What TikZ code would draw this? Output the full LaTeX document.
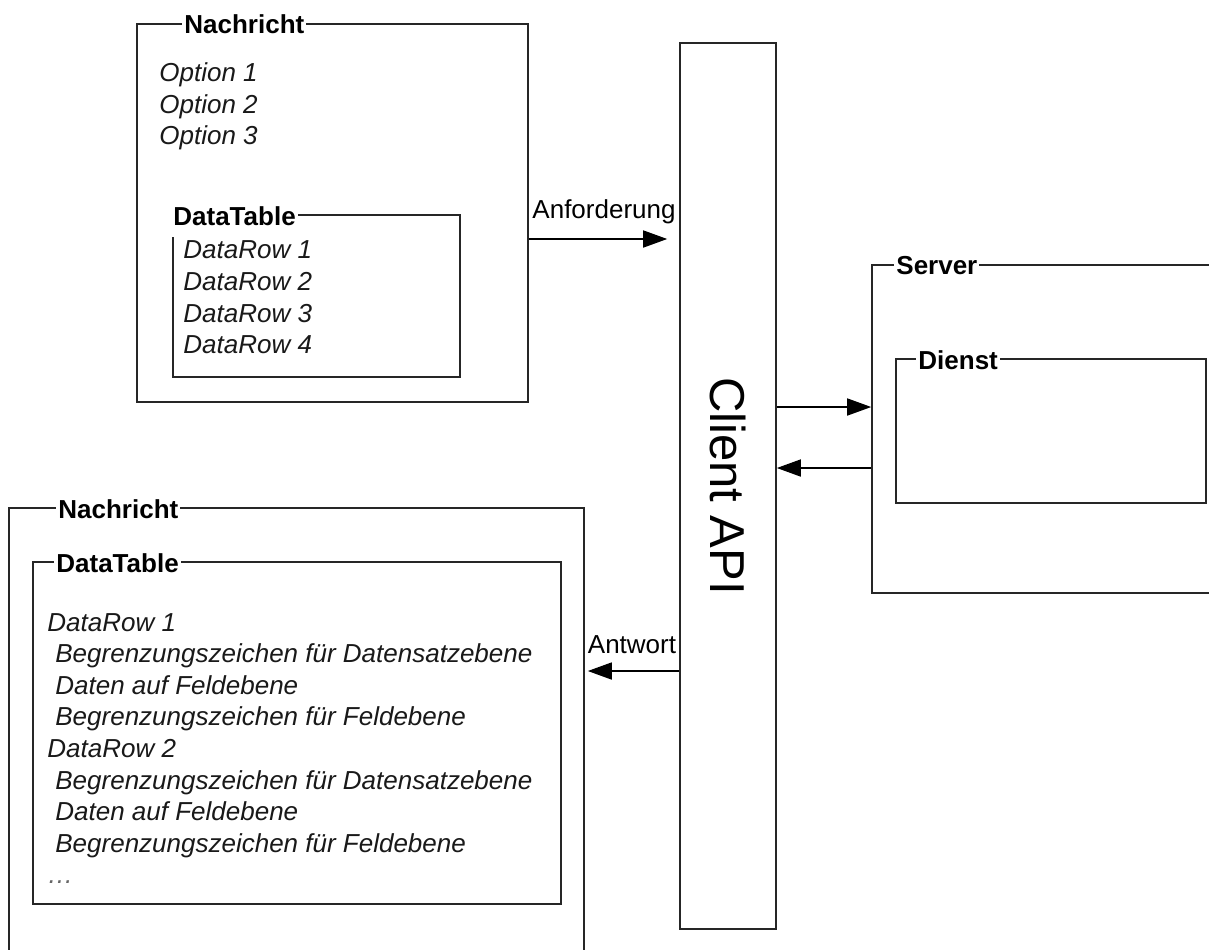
\documentclass[tikz,border=0pt]{standalone}
\usepackage{fontspec}
\setmainfont{Liberation Sans}
\usetikzlibrary{arrows.meta,fit}

\tikzset{
  frame/.style={draw=black!85,line width=0.8pt,inner sep=0pt},
  frametitle/.style={fill=white,inner xsep=1pt,inner ysep=1pt,anchor=west,
    font=\fontsize{13}{15.8}\selectfont\bfseries},
  rows/.style={inner sep=0pt,anchor=west,align=left,text=black!90,
    font=\fontsize{13}{15.8}\selectfont\itshape},
  msglabel/.style={font=\fontsize{13}{15.8}\selectfont,inner sep=0pt},
  arr/.style={line width=0.8pt,-{Triangle[length=12pt,width=8.5pt]}}
}

\begin{document}
\begin{tikzpicture}[x=0.5pt,y=-0.5pt]

  \clip (0,0) rectangle (1209,949);
  \fill[white] (0,0) rectangle (1209,949);

  % request message
  \node[frame,fit={(137,24) (528,402)}] (msgA) {};
  \node[frametitle] (msgAt) at (182,24) {Nachricht};
  \node[rows] (opts) at (159,106.5) {Option 1\\Option 2\\Option 3};

  \node[frame,fit={(173,215) (460,377)}] (tabA) {};
  \node[frametitle,minimum height=21pt] (tabAt) at (171,216) {DataTable};
  \node[rows] (rowsA) at (183,297.5) {DataRow 1\\DataRow 2\\DataRow 3\\DataRow 4};

  % client
  \node[frame,fit={(680,43) (776,929)}] (client) {};
  \node[rotate=-90,font=\fontsize{24.5}{29}\selectfont] (clientt) at (client.center) {Client API};

  % server
  \node[frame,fit={(872,265) (1220,593)}] (server) {};
  \node[frametitle] (servert) at (894,266) {Server};
  \node[frame,fit={(896,359) (1206,503)}] (dienst) {};
  \node[frametitle] (dienstt) at (916,360) {Dienst};

  % response message
  \node[frame,fit={(9,508) (584,960)}] (msgB) {};
  \node[frametitle] (msgBt) at (56,509) {Nachricht};
  \node[frame,fit={(33,562) (561,904)}] (tabB) {};
  \node[frametitle] (tabBt) at (54,563) {DataTable};
  \node[rows] (rowsB) at (47,748.5) {DataRow 1\\
    \hspace*{4pt}Begrenzungszeichen für Datensatzebene\\
    \hspace*{4pt}Daten auf Feldebene\\
    \hspace*{4pt}Begrenzungszeichen für Feldebene\\
    DataRow 2\\
    \hspace*{4pt}Begrenzungszeichen für Datensatzebene\\
    \hspace*{4pt}Daten auf Feldebene\\
    \hspace*{4pt}Begrenzungszeichen für Feldebene\\
    {\color{black!60}…}};

  % arrows
  \draw[arr,shorten >=6pt] (msgA.east |- 0,239) -- (client.west |- 0,239)
    node[msglabel,midway,above=7pt] (req) {Anforderung};
  \draw[arr] (client.east |- 0,407) -- (server.west |- 0,407);
  \draw[arr] (server.west |- 0,468) -- (client.east |- 0,468);
  \draw[arr,shorten >=1.5pt] (client.west |- 0,671) -- (msgB.east |- 0,671)
    node[msglabel,midway,above=8pt] (resp) {Antwort};

\end{tikzpicture}
\end{document}
